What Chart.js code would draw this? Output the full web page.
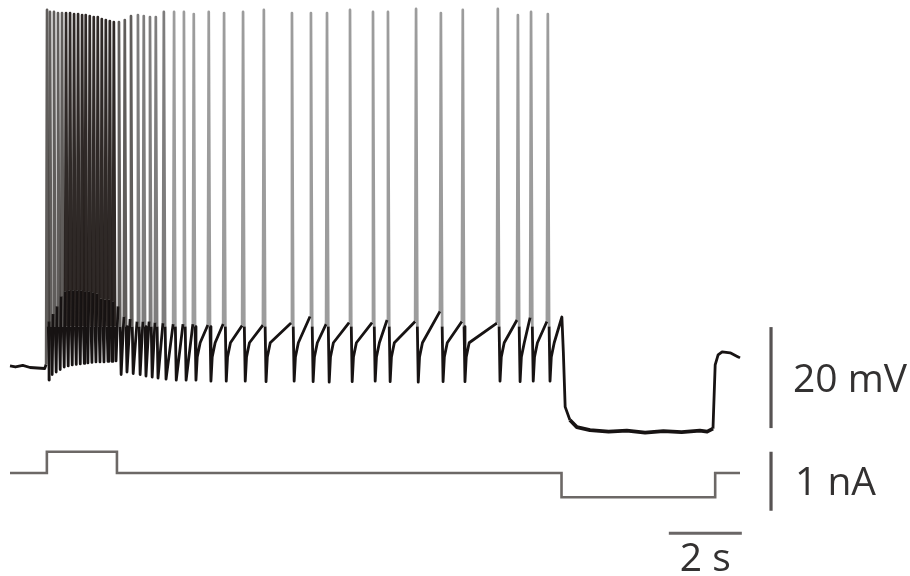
<!DOCTYPE html>
<html>
<head>
<meta charset="utf-8">
<script src="https://cdn.jsdelivr.net/npm/chart.js@4.4.1/dist/chart.umd.min.js"></script>
<style>
  html, body { margin: 0; padding: 0; background: #ffffff; }
  #wrap { width: 910px; height: 576px; position: relative; }
</style>
</head>
<body>
<div id="wrap"><canvas id="trace"></canvas></div>
<script>
// Whole-cell recording: membrane potential (mV) and injected current (nA) against time (s)

// Resting potential before the first action potential
const restTimes = [0.00, 0.15, 0.35, 0.55, 0.75, 0.95];
const restVolts = [-64.8, -65.0, -64.7, -65.1, -65.2, -65.3];

// Action potentials: onset time, pre-spike (threshold) level, peak and after-hyperpolarisation trough
const spikeTimes = [
  0.99, 1.07, 1.18, 1.29, 1.40, 1.51, 1.62, 1.73, 1.84, 1.95,
  2.05, 2.16, 2.27, 2.38, 2.49, 2.60, 2.71, 2.82, 2.96, 3.12,
  3.29, 3.48, 3.64, 3.81, 3.97, 4.19, 4.47, 4.74, 5.01, 5.42,
  5.84, 6.36, 6.93, 7.70, 8.22, 8.66, 9.29, 9.92, 10.33, 11.10,
  11.78, 12.38, 13.34, 13.89, 14.25, 14.71
];
const spikeThresholds = [
  -64.5, -56.0, -54.5, -53.0, -51.0, -50.0, -49.8, -49.8, -49.8, -49.8,
  -50.0, -50.0, -50.2, -50.5, -51.5, -51.7, -51.7, -52.0, -53.0, -55.0,
  -55.5, -56.0, -56.0, -56.0, -56.2, -56.3, -56.5, -56.5, -56.5, -56.7,
  -56.5, -56.8, -56.7, -56.3, -55.0, -56.5, -56.2, -56.2, -55.7, -56.0,
  -54.0, -56.0, -56.3, -55.7, -55.2, -56.0
];
const spikePeaks = [
  5.7, 5.3, 5.3, 5.1, 5.1, 5.1, 5.1, 4.9, 4.9, 4.7,
  4.7, 4.5, 4.3, 4.3, 3.9, 3.7, 3.5, 3.3, 3.3, 3.7,
  4.5, 4.7, 4.5, 4.3, 4.3, 5.3, 5.3, 5.3, 4.9, 5.3,
  5.1, 5.3, 5.7, 5.1, 5.1, 5.1, 5.7, 5.3, 5.3, 5.9,
  5.1, 5.7, 5.9, 4.7, 5.3, 4.9
];
const spikeTroughs = [
  -67.6, -66.5, -66.0, -65.5, -65.0, -64.8, -64.6, -64.5, -64.4, -64.3,
  -64.2, -64.1, -64.0, -64.0, -64.0, -63.9, -63.9, -63.8, -66.5, -66.0,
  -66.3, -66.5, -66.8, -67.0, -67.2, -67.4, -67.6, -67.6, -67.6, -67.8,
  -67.8, -67.8, -67.9, -67.8, -67.9, -68.0, -67.9, -67.8, -67.9, -68.0,
  -67.9, -67.9, -67.8, -67.9, -67.8, -67.8
];
// Levels passed while the membrane recovers from each after-hyperpolarisation
const ahpEarly = -63.0;
const ahpRecovery = -60.2;

// Last depolarisation, hyperpolarising step and rebound
const tailTimes = [15.12, 15.16, 15.21, 15.34, 15.53, 15.89, 16.40, 16.90, 17.40, 17.90,
                   18.40, 18.90, 19.10, 19.26, 19.32, 19.40, 19.51, 19.73, 19.95, 20.00];
const tailVolts = [-55.1, -62.0, -72.9, -75.5, -76.9, -77.5, -77.8, -77.6, -78.0, -77.7,
                   -77.9, -77.6, -77.8, -77.2, -64.6, -62.6, -62.0, -62.2, -63.0, -63.2];

// Injected current protocol (value holds until the next time)
const currentTimes  = [0.00, 1.01, 2.93, 15.11, 19.32, 20.00];
const currentLevels = [0.00, 0.36, 0.00, -0.41, 0.00, 0.00];

// Calibration bars
const barVoltage = 20;   // mV
const barCurrent = 1;    // nA
const barTime = 2;       // s
const barLabels = ['20 mV', '1 nA', '2 s'];

// ---- waveform assembly ----
const RISE = 0.025, FALL = 0.06, AHP = 0.085, FALL_LEVEL = -57;
const EARLY = 0.12, RECOVER = 0.2;

const voltagePoints = restTimes.map((t, i) => ({ x: t, y: restVolts[i] }));
spikeTimes.forEach((t, i) => {
  voltagePoints.push({ x: t, y: spikeThresholds[i] });
  voltagePoints.push({ x: t + RISE, y: spikePeaks[i] });
  voltagePoints.push({ x: t + FALL, y: FALL_LEVEL });
  voltagePoints.push({ x: t + AHP, y: spikeTroughs[i] });
  const next = i + 1 < spikeTimes.length ? spikeTimes[i + 1] : tailTimes[0];
  if (next - t > 0.35) {
    voltagePoints.push({ x: t + EARLY, y: ahpEarly });
    voltagePoints.push({ x: t + RECOVER, y: ahpRecovery });
  }
});
tailTimes.forEach((t, i) => voltagePoints.push({ x: t, y: tailVolts[i] }));

const currentPoints = currentTimes.map((t, i) => ({ x: t, y: currentLevels[i] }));

// ---- styling helpers ----
function spikeColour(t) {
  if (t > 1.45 && t < 2.9) return 'rgba(24,18,16,0.9)';
  if (t > 0.9 && t < 3.4) return 'rgba(34,30,28,0.72)';
  if (t < 4.3) return 'rgba(40,38,38,0.6)';
  return 'rgba(45,45,45,0.47)';
}
const isSpikeSegment = c => Math.max(c.p0.parsed.y, c.p1.parsed.y) > -45;
const isHyperpolarised = c => Math.max(c.p0.parsed.y, c.p1.parsed.y) < -74;

// ---- calibration bars and their labels ----
const calibration = {
  id: 'calibration',
  afterDatasetsDraw(chart) {
    const { ctx, scales } = chart;
    const x = scales.x, yV = scales.yV, yI = scales.yI;
    ctx.save();
    ctx.lineCap = 'butt';

    // voltage bar
    const bx = x.getPixelForValue(20.85);
    const v0 = yV.getPixelForValue(-57.1), v1 = yV.getPixelForValue(-57.1 - barVoltage);
    ctx.strokeStyle = '#575353';
    ctx.lineWidth = 3.2;
    ctx.beginPath(); ctx.moveTo(bx, v0); ctx.lineTo(bx, v1); ctx.stroke();

    // current bar
    const i0 = yI.getPixelForValue(0.36), i1 = yI.getPixelForValue(0.36 - barCurrent);
    ctx.beginPath(); ctx.moveTo(bx, i0); ctx.lineTo(bx, i1); ctx.stroke();

    // time bar
    const ty = yI.getPixelForValue(-1.02);
    const t0 = x.getPixelForValue(18.05), t1 = x.getPixelForValue(18.05 + barTime);
    ctx.strokeStyle = '#6a6666';
    ctx.lineWidth = 3;
    ctx.beginPath(); ctx.moveTo(t0, ty); ctx.lineTo(t1, ty); ctx.stroke();

    // labels
    ctx.fillStyle = '#333131';
    ctx.font = '39px "Open Sans", "DejaVu Sans", sans-serif';
    ctx.textBaseline = 'alphabetic';
    ctx.textAlign = 'left';
    ctx.fillText(barLabels[0], bx + 22, (v0 + v1) / 2 + 14);
    ctx.fillText(barLabels[1], bx + 24, (i0 + i1) / 2 + 14);
    ctx.textAlign = 'center';
    ctx.fillText(barLabels[2], (t0 + t1) / 2, ty + 38);
    ctx.restore();
  }
};

new Chart(document.getElementById('trace'), {
  type: 'line',
  data: {
    datasets: [
      {
        label: 'Vm',
        data: voltagePoints,
        yAxisID: 'yV',
        borderColor: '#171313',
        borderWidth: 2.8,
        pointRadius: 0,
        tension: 0,
        borderJoinStyle: 'round',
        segment: {
          borderColor: c => isSpikeSegment(c) ? spikeColour(c.p0.parsed.x) : '#171313',
          borderWidth: c => isSpikeSegment(c) ? 2.7 : (isHyperpolarised(c) ? 3.8 : 2.8)
        }
      },
      {
        label: 'I',
        data: currentPoints,
        yAxisID: 'yI',
        stepped: 'before',
        borderColor: '#6c6866',
        borderWidth: 2.6,
        pointRadius: 0
      }
    ]
  },
  options: {
    responsive: true,
    maintainAspectRatio: false,
    animation: false,
    layout: { padding: 0 },
    plugins: { legend: { display: false }, tooltip: { enabled: false } },
    scales: {
      x:  { type: 'linear', display: false, min: -10 / 36.5, max: 900 / 36.5 },
      yV: { type: 'linear', display: false, min: -106.39, max: 7.67 },
      yI: { type: 'linear', display: false, min: -1.746, max: 8.017 }
    }
  },
  plugins: [calibration]
});
</script>
</body>
</html>
